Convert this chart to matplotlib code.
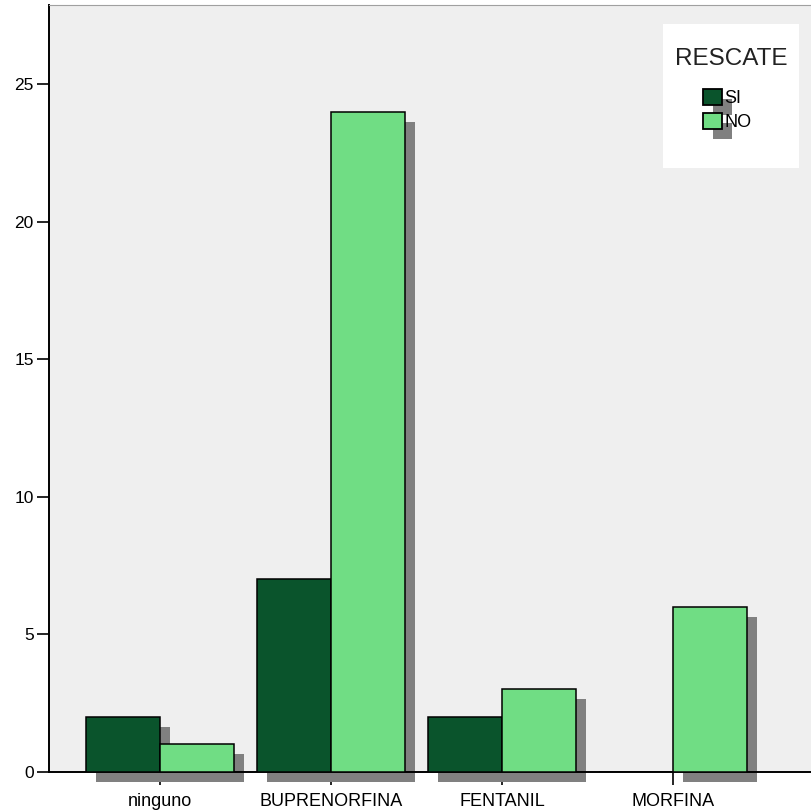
import matplotlib
matplotlib.use("Agg")
import matplotlib.pyplot as plt
import matplotlib.transforms as mtransforms
from matplotlib.patches import Rectangle
from matplotlib.legend_handler import HandlerBase
import numpy as np

# ---------------------------------------------------------
# Data
# ---------------------------------------------------------

categories = ["ninguno", "BUPRENORFINA", "FENTANIL", "MORFINA"]
si_counts = [2, 7, 2, 0]
no_counts = [1, 24, 3, 6]
series_names = ["SI", "NO"]

color_si = "#0a542c"
color_no = "#70dd84"
shadow_color = "#808080"

plt.rcParams["font.family"] = ["Liberation Sans", "DejaVu Sans"]

# ---------------------------------------------------------
# Figure / axes
# ---------------------------------------------------------

W, H = 812, 810
fig = plt.figure(figsize=(W / 100, H / 100), dpi=100)
ax = fig.add_axes([49 / W, 38 / H, (W - 49) / W, (772 - 5) / H])
ax.set_facecolor("#efefef")

x = np.arange(len(categories))
width = 0.433

# shadow offset: 10 px right, 10 px down
shadow_tr = mtransforms.offset_copy(ax.transData, fig=fig, x=10, y=-10, units="dots")


def draw_series(xpos, values, color):
    for xi, v in zip(xpos, values):
        if v == 0:
            continue
        ax.add_patch(Rectangle((xi - width / 2, 0), width, v, transform=shadow_tr,
                               facecolor=shadow_color, edgecolor="none",
                               clip_on=False, zorder=2.2))
    ax.bar(xpos, values, width, color=color, edgecolor="black",
           linewidth=1.1, zorder=4)


draw_series(x - width / 2, si_counts, color_si)
draw_series(x + width / 2, no_counts, color_no)

ax.set_xlim(-0.649, 3.813)
ax.set_ylim(0, 27.87)
ax.set_yticks([0, 5, 10, 15, 20, 25])
ax.set_xticks(x)
ax.set_xticklabels(categories)

ax.tick_params(axis="y", length=9, width=1.2, labelsize=12.5, pad=2)
ax.tick_params(axis="x", length=9, width=1.2, labelsize=13, pad=6)

for side in ["left", "bottom"]:
    ax.spines[side].set_linewidth(1.4)
ax.spines["top"].set_color("#a0a0a0")
ax.spines["right"].set_visible(False)

# ---------------------------------------------------------
# Legend
# ---------------------------------------------------------


class ShadowBoxHandler(HandlerBase):
    def create_artists(self, legend, orig_handle, xdescent, ydescent,
                       width, height, fontsize, trans):
        off = 7.2
        shadow = Rectangle((-xdescent + off, -ydescent - off), width, height,
                           facecolor=shadow_color, edgecolor="none",
                           transform=trans)
        box = Rectangle((-xdescent, -ydescent), width, height,
                        facecolor=orig_handle.get_facecolor(),
                        edgecolor="black", linewidth=1.3, transform=trans)
        return [shadow, box]


ax.add_patch(Rectangle((0.805, 0.787), 0.178, 0.188, transform=ax.transAxes,
                       facecolor="white", edgecolor="none", zorder=5))
ax.text(0.894, 0.929, "RESCATE", transform=ax.transAxes, ha="center",
        va="center", fontsize=17.5, color="#222222", zorder=7)

handles = [Rectangle((0, 0), 1, 1, facecolor=color_si),
           Rectangle((0, 0), 1, 1, facecolor=color_no)]
leg = ax.legend(handles, series_names,
                handler_map={Rectangle: ShadowBoxHandler()},
                loc="upper left", bbox_to_anchor=(0.857, 0.891),
                frameon=False, fontsize=13,
                handlelength=1.05, handleheight=1.05, handletextpad=0.15,
                labelspacing=0.3, borderpad=0.0, borderaxespad=0.0)
leg.set_zorder(6)

fig.savefig("out.png", dpi=100)
